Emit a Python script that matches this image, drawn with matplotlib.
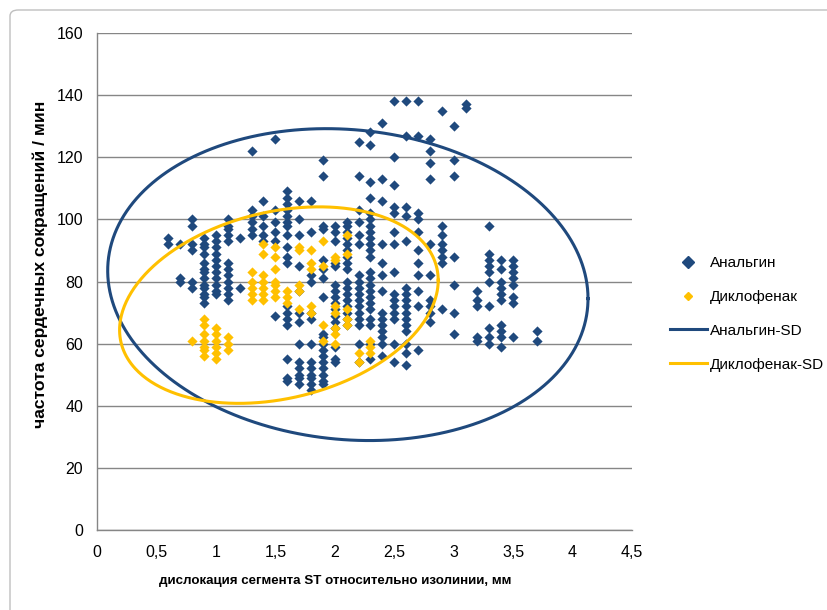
import numpy as np
import matplotlib
matplotlib.use("Agg")
import matplotlib.pyplot as plt
from matplotlib.lines import Line2D
from matplotlib.patches import FancyBboxPatch

plt.rcParams['font.family'] = ['Liberation Sans', 'DejaVu Sans']

# ---- data: Анальгин (x columns and y values) ----
an_cols = [0.6, 0.7, 0.8, 0.9, 1.0, 1.1, 1.2, 1.3, 1.4, 1.5, 1.6, 1.7, 1.8, 1.9,
           2.0, 2.1, 2.2, 2.3, 2.4, 2.5, 2.6, 2.7, 2.8, 2.9, 3.0, 3.1, 3.2, 3.3,
           3.4, 3.5, 3.7]
an_vals = [
    [94, 92],
    [92, 81, 80],
    [100, 98, 92, 90, 80, 78],
    [94, 92, 91, 89, 86, 84, 83, 81, 79, 78, 76, 75, 73],
    [95, 93, 91, 89, 87, 85, 83, 81, 79, 77, 76],
    [100, 98, 97, 95, 93, 86, 84, 82, 80, 78, 76, 74],
    [94, 78],
    [122, 103, 101, 99, 97, 95],
    [106, 101, 98, 95, 93],
    [126, 103, 99, 96, 93, 69],
    [109, 107, 105, 103, 101, 99, 98, 95, 91, 88, 86, 72, 70, 68, 66, 55, 49, 48],
    [106, 100, 95, 85, 77, 70, 67, 60, 54, 52, 50, 49, 47],
    [106, 96, 82, 80, 70, 68, 60, 54, 52, 50, 49, 47, 45],
    [119, 114, 98, 97, 87, 84, 81, 75, 63, 62, 60, 58, 56, 54, 52, 50, 48, 47],
    [98, 96, 93, 86, 85, 79, 77, 75, 73, 71, 69, 67, 65, 59, 55, 54],
    [99, 98, 96, 94, 92, 90, 88, 86, 84, 80, 78, 76, 74, 72, 70, 68, 66],
    [125, 114, 103, 99, 95, 92, 82, 80, 78, 76, 74, 72, 70, 68, 66, 60, 54],
    [128, 124, 112, 107, 102, 100, 98, 96, 94, 92, 90, 88, 83, 81, 79, 77, 75,
     73, 71, 68, 66, 60, 55],
    [131, 113, 106, 92, 86, 82, 77, 70, 68, 66, 64, 62, 60, 56],
    [138, 120, 111, 104, 102, 96, 92, 83, 76, 74, 72, 70, 68, 60, 54],
    [138, 127, 104, 101, 93, 78, 76, 74, 72, 70, 68, 66, 64, 60, 57, 53],
    [138, 127, 102, 100, 96, 90, 86, 82, 77, 72, 58],
    [126, 122, 118, 113, 92, 82, 74, 72, 70, 67],
    [135, 98, 95, 92, 90, 88, 86, 71],
    [130, 119, 114, 88, 79, 70, 63],
    [137, 136],
    [77, 74, 72, 62, 61],
    [98, 89, 87, 85, 83, 80, 72, 65, 62, 60],
    [87, 84, 80, 78, 76, 74, 66, 64, 62, 59],
    [87, 85, 83, 81, 79, 75, 73, 62],
    [64, 61],
]

# ---- data: Диклофенак ----
di_cols = [0.8, 0.9, 1.0, 1.1, 1.3, 1.4, 1.5, 1.6, 1.7, 1.8, 1.9, 2.0, 2.1, 2.2, 2.3]
di_vals = [
    [61],
    [68, 66, 63, 61, 59, 58, 56],
    [65, 63, 61, 59, 57, 55],
    [62, 60, 58],
    [83, 80, 78, 76, 74],
    [92, 89, 82, 80, 78, 76, 74],
    [91, 88, 84, 80, 79, 77, 75],
    [77, 75, 73],
    [91, 90, 79, 77, 71],
    [90, 86, 84, 72, 70],
    [93, 85, 66, 61],
    [88, 87, 72, 70, 65, 63, 60],
    [95, 89, 71, 68, 66],
    [57, 54],
    [61, 59, 57],
]

# SD ellipses: centre x, half-width x, centre y, tilt, half-height y
an_sd = (2.11, 2.02, 79.0, -4.5, 50.0)
di_sd = (1.53, 1.34, 72.4, 8.0, 30.6)

labels = ['Анальгин', 'Диклофенак', 'Анальгин-SD', 'Диклофенак-SD']
xticks = [0, 0.5, 1, 1.5, 2, 2.5, 3, 3.5, 4, 4.5]
xticklabels = ['0', '0,5', '1', '1,5', '2', '2,5', '3', '3,5', '4', '4,5']
yticks = [0, 20, 40, 60, 80, 100, 120, 140, 160]

BLUE = '#1F497D'
GOLD = '#FFC000'


def flatten(cols, vals):
    xs, ys = [], []
    for c, v in zip(cols, vals):
        xs.extend([c] * len(v))
        ys.extend(v)
    return np.array(xs), np.array(ys)


def ellipse(p):
    cx, a, cy, k, b = p
    t = np.linspace(0, 2 * np.pi, 400)
    return cx + a * np.cos(t), cy + k * np.cos(t) + b * np.sin(t)


fig = plt.figure(figsize=(8.27, 6.10), dpi=100)
ax = fig.add_axes([97 / 827, 80 / 610, 535 / 827, 497 / 610])

ax_x, ax_y = flatten(an_cols, an_vals)
dx, dy = flatten(di_cols, di_vals)

ax.scatter(ax_x, ax_y, marker='D', s=27, color=BLUE, linewidths=0, zorder=3)
ax.scatter(dx, dy, marker='D', s=27, color=GOLD, linewidths=0, zorder=4)
ex, ey = ellipse(an_sd)
ax.plot(ex, ey, color=BLUE, lw=2.2, zorder=5)
ex, ey = ellipse(di_sd)
ax.plot(ex, ey, color=GOLD, lw=2.2, zorder=5)

ax.set_xlim(0, 4.5)
ax.set_ylim(0, 160)
ax.set_xticks(xticks)
ax.set_xticklabels(xticklabels)
ax.set_yticks(yticks)
ax.tick_params(length=0, labelsize=11.5, colors='black')
ax.tick_params(axis='x', pad=11)
ax.tick_params(axis='y', pad=10)
ax.yaxis.grid(True, color='#868686', lw=1)
ax.set_axisbelow(True)
for s in ['top', 'right']:
    ax.spines[s].set_visible(False)
for s in ['left', 'bottom']:
    ax.spines[s].set_color('#868686')
    ax.spines[s].set_linewidth(1)

ax.set_xlabel('дислокация сегмента ST относительно изолинии, мм',
              fontsize=9.6, fontweight='bold')
ax.xaxis.set_label_coords((335 - 97) / 535, (530 - 581) / 497)
ax.xaxis.label.set_va('center')
ax.set_ylabel('частота сердечных сокращений / мин',
              fontsize=12.6, fontweight='bold')
ax.yaxis.set_label_coords((40 - 97) / 535, (530 - 264) / 497)
ax.yaxis.label.set_va('center')

handles = [
    Line2D([], [], ls='none', marker='D', ms=6, color=BLUE),
    Line2D([], [], ls='none', marker='D', ms=4.5, color=GOLD),
    Line2D([], [], color=BLUE, lw=2.2),
    Line2D([], [], color=GOLD, lw=2.2),
]
fig.legend(handles, labels, loc='upper left', bbox_to_anchor=(670 / 827, 1 - 256 / 610),
           frameon=False, fontsize=11, handlelength=2.4, handletextpad=0.2,
           labelspacing=1.3, borderaxespad=0, borderpad=0)

fig.patches.append(FancyBboxPatch((10 / 827, -20 / 610), 840 / 827, 620 / 610,
                                  boxstyle='round,pad=0,rounding_size=0.01',
                                  transform=fig.transFigure, fill=False,
                                  edgecolor='#BFBFBF', lw=1))

fig.savefig('out.png', dpi=100)
